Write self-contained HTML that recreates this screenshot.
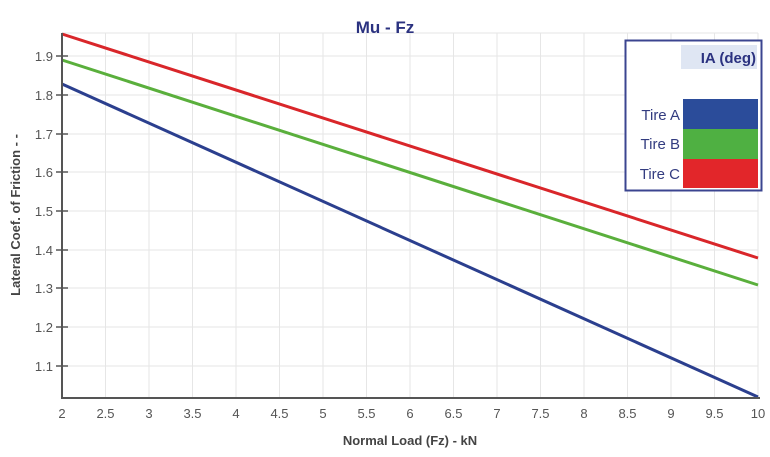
<!DOCTYPE html>
<html><head><style>body{margin:0;background:#fff}svg{display:block}text{font-family:"Liberation Sans",Arial,sans-serif}</style></head><body>
<svg width="770" height="457" viewBox="0 0 770 457">
<g stroke="#e6e6e6" stroke-width="1">
<line x1="105.5" y1="33" x2="105.5" y2="398"/><line x1="149" y1="33" x2="149" y2="398"/><line x1="192.5" y1="33" x2="192.5" y2="398"/><line x1="236" y1="33" x2="236" y2="398"/><line x1="279.5" y1="33" x2="279.5" y2="398"/><line x1="323" y1="33" x2="323" y2="398"/><line x1="366.5" y1="33" x2="366.5" y2="398"/><line x1="410" y1="33" x2="410" y2="398"/><line x1="453.5" y1="33" x2="453.5" y2="398"/><line x1="497" y1="33" x2="497" y2="398"/><line x1="540.5" y1="33" x2="540.5" y2="398"/><line x1="584" y1="33" x2="584" y2="398"/><line x1="627.5" y1="33" x2="627.5" y2="398"/><line x1="671" y1="33" x2="671" y2="398"/><line x1="714.5" y1="33" x2="714.5" y2="398"/><line x1="758" y1="33" x2="758" y2="398"/>
<line x1="62" y1="33" x2="758" y2="33"/><line x1="62" y1="56" x2="758" y2="56"/><line x1="62" y1="95" x2="758" y2="95"/><line x1="62" y1="134" x2="758" y2="134"/><line x1="62" y1="172" x2="758" y2="172"/><line x1="62" y1="211" x2="758" y2="211"/><line x1="62" y1="250" x2="758" y2="250"/><line x1="62" y1="288" x2="758" y2="288"/><line x1="62" y1="327" x2="758" y2="327"/><line x1="62" y1="366" x2="758" y2="366"/>
</g>
<g stroke-width="3" fill="none">
<line x1="62" y1="34" x2="758" y2="258" stroke="#d9262a"/>
<line x1="62" y1="60" x2="758" y2="285" stroke="#5aaf3c"/>
<line x1="62" y1="84" x2="758" y2="397" stroke="#2b3f8e"/>
</g>
<g stroke="#555" stroke-width="2">
<line x1="62" y1="33" x2="62" y2="398"/><line x1="61" y1="398" x2="760" y2="398"/>
</g>
<g stroke="#555" stroke-width="1.5">
<line x1="56" y1="56" x2="68" y2="56"/><line x1="56" y1="95" x2="68" y2="95"/><line x1="56" y1="134" x2="68" y2="134"/><line x1="56" y1="172" x2="68" y2="172"/><line x1="56" y1="211" x2="68" y2="211"/><line x1="56" y1="250" x2="68" y2="250"/><line x1="56" y1="288" x2="68" y2="288"/><line x1="56" y1="327" x2="68" y2="327"/><line x1="56" y1="366" x2="68" y2="366"/>
</g>
<g fill="#555" font-size="13" text-anchor="end">
<text x="53" y="61">1.9</text><text x="53" y="100">1.8</text><text x="53" y="139">1.7</text><text x="53" y="177">1.6</text><text x="53" y="216">1.5</text><text x="53" y="255">1.4</text><text x="53" y="293">1.3</text><text x="53" y="332">1.2</text><text x="53" y="371">1.1</text>
</g>
<g fill="#555" font-size="13" text-anchor="middle">
<text x="62" y="418">2</text><text x="105.5" y="418">2.5</text><text x="149" y="418">3</text><text x="192.5" y="418">3.5</text><text x="236" y="418">4</text><text x="279.5" y="418">4.5</text><text x="323" y="418">5</text><text x="366.5" y="418">5.5</text><text x="410" y="418">6</text><text x="453.5" y="418">6.5</text><text x="497" y="418">7</text><text x="540.5" y="418">7.5</text><text x="584" y="418">8</text><text x="627.5" y="418">8.5</text><text x="671" y="418">9</text><text x="714.5" y="418">9.5</text><text x="758" y="418">10</text>
</g>
<text x="410" y="445" font-size="13" font-weight="bold" fill="#444" text-anchor="middle">Normal Load (Fz) - kN</text>
<text transform="translate(20,215) rotate(-90)" font-size="13" font-weight="bold" fill="#444" text-anchor="middle">Lateral Coef. of Friction - -</text>
<text x="385" y="33" font-size="17" font-weight="bold" fill="#2b3280" text-anchor="middle">Mu - Fz</text>
<rect x="625.5" y="40.5" width="136" height="150" fill="#fff" stroke="#3b4590" stroke-width="2"/>
<rect x="681" y="45" width="76" height="24" fill="#dfe6f3"/>
<text x="756" y="63" font-size="15" font-weight="bold" fill="#2b3280" text-anchor="end">IA (deg)</text>
<rect x="683" y="99" width="75" height="30" fill="#2b4c9a"/>
<rect x="683" y="129" width="75" height="30" fill="#4fb042"/>
<rect x="683" y="159" width="75" height="29" fill="#e2262a"/>
<g font-size="15" fill="#333c80" text-anchor="end"><text x="680" y="120">Tire A</text><text x="680" y="149">Tire B</text><text x="680" y="179">Tire C</text></g>
</svg>
</body></html>
